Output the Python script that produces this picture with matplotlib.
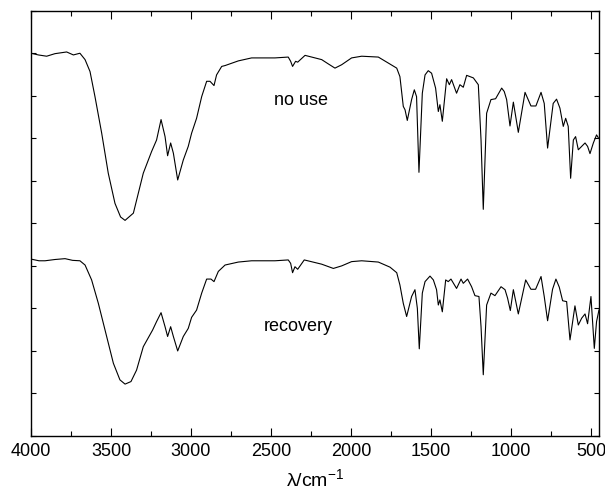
import matplotlib
matplotlib.use("Agg")
import matplotlib.pyplot as plt
from matplotlib.ticker import MultipleLocator, NullFormatter

plt.rcParams['font.family'] = ['Liberation Sans', 'DejaVu Sans']
plt.rcParams['mathtext.default'] = 'regular'

# spectrum "no use" (wavenumber, transmittance in tick units)
wn_nouse = [4000, 3954, 3902, 3850, 3777, 3735, 3694, 3662, 3631, 3600, 3558, 3517,
            3475, 3440, 3412, 3360, 3298, 3246, 3215, 3187, 3162, 3146, 3127, 3110,
            3083, 3048, 3017, 2996, 2965, 2933, 2902, 2881, 2856, 2840, 2808, 2787,
            2704, 2621, 2475, 2392, 2377, 2365, 2346, 2333, 2287, 2183, 2142, 2100,
            2058, 1996, 1933, 1829, 1767, 1714, 1694, 1673, 1662, 1648, 1621, 1604,
            1590, 1575, 1554, 1537, 1517, 1496, 1471, 1454, 1444, 1429, 1402, 1385,
            1371, 1340, 1319, 1298, 1277, 1235, 1204, 1187, 1173, 1152, 1125, 1096,
            1058, 1042, 1027, 1006, 985, 954, 912, 875, 844, 812, 792, 771,
            736, 715, 694, 673, 658, 642, 627, 610, 596, 579, 558, 537,
            521, 506, 485, 465, 455]
t_nouse = [9.00, 8.96, 8.93, 8.99, 9.03, 8.96, 9.00, 8.85, 8.57, 7.98, 7.12, 6.18,
           5.47, 5.15, 5.07, 5.24, 6.18, 6.69, 6.96, 7.44, 7.04, 6.59, 6.89, 6.65,
           6.02, 6.49, 6.81, 7.12, 7.47, 7.98, 8.34, 8.34, 8.24, 8.49, 8.69, 8.71,
           8.82, 8.89, 8.89, 8.91, 8.81, 8.69, 8.81, 8.79, 8.95, 8.85, 8.75, 8.65,
           8.73, 8.89, 8.93, 8.91, 8.77, 8.65, 8.45, 7.75, 7.67, 7.42, 7.91, 8.14,
           7.98, 6.20, 8.06, 8.49, 8.59, 8.53, 8.18, 7.63, 7.79, 7.40, 8.40, 8.26,
           8.38, 8.06, 8.26, 8.20, 8.48, 8.42, 8.26, 6.96, 5.33, 7.59, 7.91, 7.93,
           8.18, 8.10, 7.91, 7.29, 7.85, 7.14, 8.08, 7.76, 7.76, 8.08, 7.82, 6.77,
           7.82, 7.92, 7.71, 7.28, 7.47, 7.28, 6.06, 6.96, 7.04, 6.73, 6.81, 6.89,
           6.81, 6.64, 6.89, 7.08, 7.02]

# spectrum "recovery"
wn_rec = [4000, 3950, 3912, 3850, 3787, 3740, 3694, 3662, 3621, 3579, 3527, 3485,
          3444, 3412, 3375, 3340, 3298, 3240, 3215, 3187, 3162, 3146, 3127, 3110,
          3083, 3048, 3017, 2996, 2965, 2933, 2902, 2875, 2856, 2829, 2798, 2787,
          2704, 2621, 2475, 2392, 2377, 2365, 2350, 2333, 2292, 2183, 2110, 2058,
          1996, 1933, 1829, 1756, 1714, 1694, 1673, 1652, 1621, 1600, 1585, 1573,
          1554, 1537, 1506, 1485, 1465, 1454, 1444, 1429, 1408, 1392, 1375, 1340,
          1312, 1298, 1271, 1246, 1225, 1200, 1187, 1173, 1152, 1125, 1100, 1062,
          1037, 1021, 1004, 985, 954, 908, 875, 846, 812, 792, 771, 740,
          719, 698, 677, 652, 631, 600, 579, 558, 537, 521, 500, 479,
          465, 450]
t_rec = [4.16, 4.12, 4.12, 4.15, 4.17, 4.13, 4.12, 4.02, 3.67, 3.12, 2.34, 1.71,
         1.32, 1.22, 1.28, 1.55, 2.10, 2.49, 2.69, 2.90, 2.57, 2.34, 2.57, 2.34,
         2.00, 2.34, 2.53, 2.79, 2.96, 3.36, 3.69, 3.69, 3.63, 3.87, 3.98, 4.02,
         4.09, 4.12, 4.12, 4.14, 4.06, 3.84, 3.98, 3.92, 4.14, 4.04, 3.94, 4.00,
         4.10, 4.12, 4.09, 3.97, 3.84, 3.55, 3.12, 2.81, 3.28, 3.44, 3.00, 2.05,
         3.36, 3.63, 3.76, 3.67, 3.44, 3.08, 3.20, 2.92, 3.67, 3.63, 3.69, 3.47,
         3.69, 3.59, 3.69, 3.51, 3.30, 3.28, 2.57, 1.44, 3.08, 3.36, 3.30, 3.51,
         3.44, 3.24, 2.95, 3.44, 2.87, 3.67, 3.45, 3.45, 3.75, 3.28, 2.71, 3.45,
         3.69, 3.50, 3.18, 3.16, 2.26, 3.06, 2.61, 2.77, 2.87, 2.64, 3.28, 2.06,
         2.69, 2.96]

fig = plt.figure(figsize=(6.05, 4.98), dpi=100)
ax = fig.add_axes([0.0512, 0.1245, 0.9388, 0.854])

ax.plot(wn_nouse, t_nouse, color='black', lw=0.8)
ax.plot(wn_rec, t_rec, color='black', lw=0.8)

ax.text(2310, 7.9, 'no use', fontsize=13, ha='center', va='center')
ax.text(2330, 2.57, 'recovery', fontsize=13, ha='center', va='center')

ax.set_xlim(4000, 450)
ax.set_ylim(0, 10)
ax.xaxis.set_major_locator(MultipleLocator(500))
ax.xaxis.set_minor_locator(MultipleLocator(250))
ax.yaxis.set_major_locator(MultipleLocator(1))
ax.yaxis.set_major_formatter(NullFormatter())
ax.tick_params(which='both', direction='in', top=True, right=True, width=0.8)
ax.tick_params(which='major', axis='x', length=6, labelsize=13, pad=5)
ax.tick_params(which='minor', axis='x', length=3.5)
ax.tick_params(which='major', axis='y', length=3.5)
for s in ax.spines.values():
    s.set_linewidth(1.0)

ax.set_xlabel('λ/cm$^{-1}$', fontsize=14, labelpad=6)

plt.savefig('out.png', dpi=100)
